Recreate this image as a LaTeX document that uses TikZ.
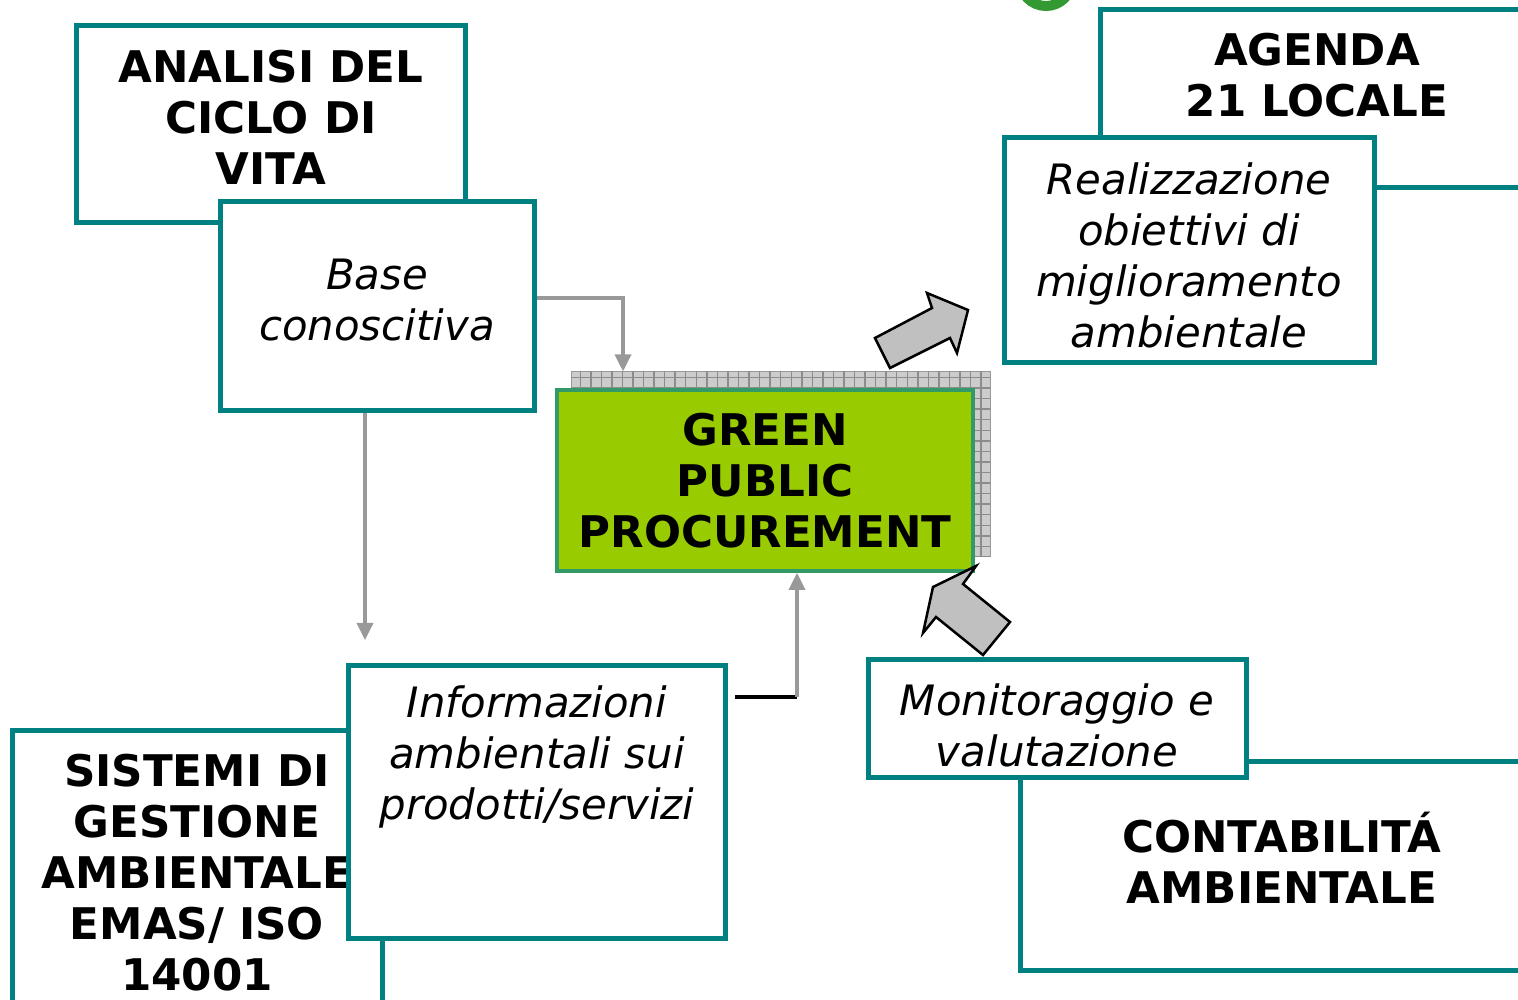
\documentclass[tikz,border=0pt]{standalone}
\usepackage{fontspec}
\setmainfont{DejaVu Sans}
\usetikzlibrary{arrows.meta,patterns,positioning}
\definecolor{boxteal}{HTML}{008080}
\definecolor{gppfill}{HTML}{99CC00}
\definecolor{gppline}{HTML}{339966}
\definecolor{linkgray}{HTML}{999999}
\definecolor{arrowgray}{HTML}{C0C0C0}
\definecolor{ringgreen}{HTML}{339933}

\begin{document}
\begin{tikzpicture}[x=0.01cm,y=-0.01cm,
		box/.style={draw=boxteal,line width=0.05cm,fill=white,inner sep=0pt},
		caps/.style={font=\bfseries\fontsize{12.4}{14.5}\selectfont,align=center},
		slant/.style={font=\itshape\fontsize{11.9}{14.5}\selectfont,align=center},
		link/.style={draw=linkgray,line width=0.035cm,-{Triangle[length=0.17cm,width=0.16cm]}},
		bigarrow/.style={draw=black,line width=0.025cm,fill=arrowgray,line join=miter}]
		\useasboundingbox (0,0) rectangle (1518,1000);
		% bit of the logo at the top
		\draw[ringgreen,line width=0.1cm] (1046,-20) circle[radius=0.26cm];
		% upper left
		\node[box,minimum width=3.88cm,minimum height=1.96cm] (analisi) at (271,124) {};
		\node[caps] (analisi-t) at (271,117) {ANALISI DEL\\CICLO DI\\VITA};
		\node[box,minimum width=3.13cm,minimum height=2.08cm] (base) at (377.5,306) {};
		\node[slant] (base-t) at (377,300) {Base\\conoscitiva};
		% upper right
		\node[box,minimum width=4.59cm,minimum height=1.77cm] (agenda) at (1330.5,98.5) {};
		\node[caps] (agenda-t) at (1317,75) {AGENDA\\21 LOCALE};
		\node[box,minimum width=3.69cm,minimum height=2.24cm] (realiz) at (1189.5,250) {};
		\node[slant] (realiz-t) at (1189,255) {Realizzazione\\obiettivi di\\miglioramento\\ambientale};
		% centre
		\node[draw=gray!80,line width=0.01cm,fill=gray!40,
			postaction={pattern=grid,pattern color=gray!90},
			minimum width=4.18cm,minimum height=1.84cm] (shadow) at (781,464) {};
		\node[draw=gppline,fill=gppfill,line width=0.035cm,
			minimum width=4.16cm,minimum height=1.81cm] (gpp) at (765,480.5) {};
		\node[caps] (gpp-t) at (765,481) {GREEN\\PUBLIC\\PROCUREMENT};
		% lower left
		\node[box,minimum width=3.69cm,minimum height=3.09cm] (sistemi) at (197.5,885.5) {};
		\node[caps] (sistemi-t) at (197,873) {SISTEMI DI\\GESTIONE\\AMBIENTALE\\EMAS/ ISO\\14001};
		\node[box,minimum width=3.76cm,minimum height=2.72cm] (info) at (537,802) {};
		\node[slant] (info-t) at (537,757) {Informazioni\\ambientali sui\\prodotti/servizi};
		% lower right
		\node[box,minimum width=5.39cm,minimum height=2.08cm] (contab) at (1290.5,866) {};
		\node[caps] (contab-t) at (1282,858) {CONTABILITÁ\\AMBIENTALE};
		\node[box,minimum width=3.77cm,minimum height=1.17cm] (monit) at (1057.5,718.5) {};
		\node[slant] (monit-t) at (1057,725) {Monitoraggio e\\valutazione};
		% connectors
		\coordinate (k1) at (623,298);
		\coordinate (k2) at (365,640);
		\coordinate (k3) at (797,697);
		\coordinate (k4) at (735,697);
		\draw[link] (base.east |- k1) -- (k1) -- (shadow.north -| k1);
		\draw[link] (base.south -| k2) -- (k2);
		\draw[line width=0.035cm] (k4) -- (k3);
		\draw[link] (k3) -- (gpp.south -| k3);
		% block arrows
		\draw[bigarrow] (875,338) -- (932,308) -- (927,293) -- (968,310)
			-- (957,353) -- (950,338) -- (890,368) -- cycle;
		\draw[bigarrow] (976,566) -- (963,584) -- (1010,622) -- (983,655)
			-- (936,617) -- (923,633) -- (933,587) -- cycle;
	\end{tikzpicture}
\end{document}
